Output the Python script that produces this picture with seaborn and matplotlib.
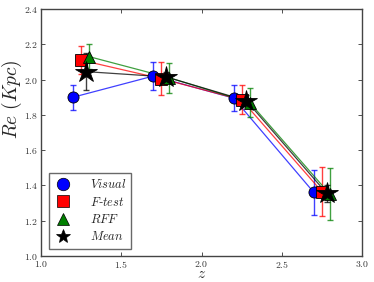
import numpy as np
import pandas as pd
import matplotlib
matplotlib.use("Agg")
import matplotlib.pyplot as plt
import seaborn as sns
from matplotlib.lines import Line2D

# Data
z_visual = [1.20, 1.70, 2.20, 2.70]
re_visual = [1.90, 2.02, 1.895, 1.36]
err_visual = [0.07, 0.08, 0.075, 0.13]

z_ftest = [1.25, 1.75, 2.25, 2.75]
re_ftest = [2.11, 2.005, 1.885, 1.365]
err_ftest = [0.08, 0.095, 0.082, 0.14]

z_rff = [1.30, 1.80, 2.30, 2.80]
re_rff = [2.13, 2.01, 1.87, 1.35]
err_rff = [0.07, 0.085, 0.08, 0.148]

z_mean = [1.28, 1.78, 2.28, 2.78]
re_mean = [2.045, 2.015, 1.88, 1.355]
err_mean = [0.105, 0.03, 0.03, 0.05]

xticks = [1.0, 1.5, 2.0, 2.5, 3.0]
yticks = [1.0, 1.2, 1.4, 1.6, 1.8, 2.0, 2.2, 2.4]

labels = [r"$Visual$", r"$F$-$test$", r"$RFF$", r"$Mean$"]
colors = ["#0000ff", "#ff0000", "#008000", "#000000"]
markers = ["o", "s", "^", "*"]
msizes = [8, 8, 8.5, 16]

sns.set_style("ticks")
plt.rcParams["font.family"] = ["DejaVu Serif"]
plt.rcParams["mathtext.fontset"] = "cm"
plt.rcParams["xtick.direction"] = "in"
plt.rcParams["ytick.direction"] = "in"

fig = plt.figure(figsize=(3.74, 2.82), dpi=100)
ax = fig.add_axes([41/374, 1-256/282, (362-41)/374, (256-9)/282])

series = [
    (z_visual, re_visual, err_visual),
    (z_ftest, re_ftest, err_ftest),
    (z_rff, re_rff, err_rff),
    (z_mean, re_mean, err_mean),
]

for i, ((zs, rs, es), c, m, ms) in enumerate(zip(series, colors, markers, msizes)):
    df = pd.DataFrame({"z": zs, "re": rs})
    ax.errorbar(zs, rs, yerr=es, fmt="none", ecolor=c, elinewidth=1.0,
                capsize=2, capthick=1.0, alpha=0.75, zorder=2 + i)
    sns.lineplot(data=df, x="z", y="re", ax=ax, color=c, linewidth=0.9,
                 alpha=0.75, zorder=3 + i, legend=False)
    ax.plot(zs, rs, linestyle="none", marker=m, markersize=ms,
            markerfacecolor=c, markeredgecolor="black", markeredgewidth=0.6,
            zorder=10 + i)

ax.set_xlim(1.0, 3.0)
ax.set_ylim(1.0, 2.4)
ax.set_xticks(xticks)
ax.set_yticks(yticks)
ax.set_xticklabels([f"${t:.1f}$" for t in xticks])
ax.set_yticklabels([f"${t:.1f}$" for t in yticks])
ax.tick_params(axis="both", labelsize=7, length=3, width=0.6, top=True,
               right=True, pad=2, colors="#333333")
for sp in ax.spines.values():
    sp.set_linewidth(1.0)
    sp.set_color("#444444")

ax.set_xlabel(r"$z$", fontsize=11)
ax.set_ylabel(r"$Re\ (Kpc)$", fontsize=14)
ax.xaxis.set_label_coords(0.5, -0.046)
ax.yaxis.set_label_coords(-0.052, 0.635)

handles = [Line2D([0], [0], linestyle="none", marker=m, markersize=(9 if m != "*" else 10),
                  markerfacecolor=c, markeredgecolor="black", markeredgewidth=0.5)
           for m, c in zip(markers, colors)]
leg = ax.legend(handles, labels, loc="lower left", fontsize=9, frameon=True,
                fancybox=False, borderaxespad=0.6, handlelength=1.5,
                labelspacing=0.35, handletextpad=1.4, borderpad=0.4)
leg.get_frame().set_edgecolor("#444444")
leg.get_frame().set_linewidth(1.0)

fig.savefig("out.png", dpi=100)
